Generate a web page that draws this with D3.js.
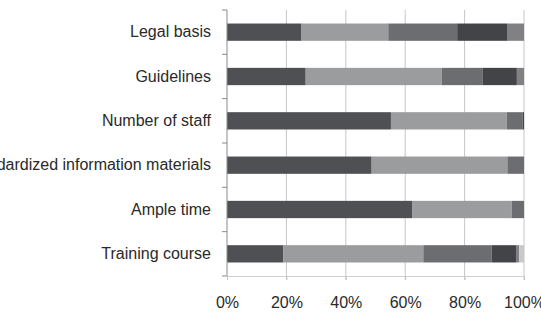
<!DOCTYPE html>
<html>
<head>
<meta charset="utf-8">
<script src="https://cdn.jsdelivr.net/npm/d3@7"></script>
<style>
  body { margin: 0; background: #fff; }
  svg { display: block; font-family: "Liberation Sans", Arial, sans-serif; }
</style>
</head>
<body>
<div id="chart"></div>
<script>
// categories, top to bottom
const categories = ["Legal basis", "Guidelines", "Number of staff",
  "Standardized information materials", "Ample time", "Training course"];

// series shares (%) per category, in stacking order
const seriesA = [25.1, 26.5, 55.2, 48.7, 62.3, 19.0];
const seriesB = [29.2, 45.8, 39.0, 45.7, 33.6, 47.1];
const seriesC = [23.2, 13.7, 5.3, 5.6, 4.1, 23.0];
const seriesD = [17.0, 11.6, 0.5, 0, 0, 8.2];
const seriesE = [5.5, 2.4, 0, 0, 0, 1.1];
const seriesF = [0, 0, 0, 0, 0, 1.6];

const xTicks = [0, 20, 40, 60, 80, 100];

const width = 541;
const height = 314;
const margin = { top: 10, right: 17, bottom: 38, left: 227 };

const seriesKeys = ["A", "B", "C", "D", "E", "F"];
const seriesColors = ["#4e5054", "#9b9c9e", "#6c6d70", "#434447", "#818183", "#c8c8c8"];
const allSeries = [seriesA, seriesB, seriesC, seriesD, seriesE, seriesF];

const rows = categories.map((c, i) => {
  const r = { category: c };
  seriesKeys.forEach((k, j) => r[k] = allSeries[j][i]);
  return r;
});

const stacked = d3.stack().keys(seriesKeys)(rows);

const svg = d3.select("#chart").append("svg")
  .attr("width", width)
  .attr("height", height);

const x = d3.scaleLinear()
  .domain([0, 100])
  .range([margin.left, width - margin.right]);

const y = d3.scaleBand()
  .domain(categories)
  .range([margin.top, height - margin.bottom]);

const barH = y.bandwidth() * 0.39;

// vertical gridlines
svg.append("g")
  .selectAll("line")
  .data(xTicks.slice(1))
  .enter()
  .append("line")
  .attr("x1", d => x(d)).attr("x2", d => x(d))
  .attr("y1", margin.top).attr("y2", height - margin.bottom + 4)
  .attr("stroke", "#c6c6c6")
  .attr("stroke-width", 1);

// bars
svg.append("g")
  .selectAll("g")
  .data(stacked)
  .enter()
  .append("g")
  .attr("fill", (d, i) => seriesColors[i])
  .selectAll("rect")
  .data(d => d)
  .enter()
  .append("rect")
  .attr("x", d => x(d[0]))
  .attr("width", d => x(d[1]) - x(d[0]))
  .attr("y", d => y(d.data.category) + (y.bandwidth() - barH) / 2)
  .attr("height", barH);

// x axis
const xAxis = svg.append("g")
  .attr("transform", `translate(0, ${height - margin.bottom})`)
  .call(d3.axisBottom(x).tickValues(xTicks).tickFormat(d => d + "%").tickSize(4).tickPadding(17));
xAxis.select(".domain").attr("stroke", "#d0d0d0");
xAxis.selectAll(".tick line").attr("stroke", "#c6c6c6");
xAxis.selectAll("text")
  .style("font-size", "16px")
  .attr("fill", "#2a2a2a");

// y axis
const yTickPos = d3.range(categories.length + 1).map(i => margin.top + i * y.step());
const yAxis = svg.append("g")
  .attr("transform", `translate(${margin.left}, 0)`);
yAxis.append("line")
  .attr("x1", 0).attr("x2", 0)
  .attr("y1", margin.top).attr("y2", height - margin.bottom)
  .attr("stroke", "#8a8a8a");
yAxis.selectAll(".ytick")
  .data(yTickPos)
  .enter()
  .append("line")
  .attr("class", "ytick")
  .attr("x1", -5).attr("x2", 0)
  .attr("y1", d => d).attr("y2", d => d)
  .attr("stroke", "#8a8a8a");
yAxis.selectAll("text")
  .data(categories)
  .enter()
  .append("text")
  .attr("x", -16)
  .attr("y", d => y(d) + y.bandwidth() / 2)
  .attr("dy", "0.33em")
  .attr("text-anchor", "end")
  .style("font-size", "16px")
  .attr("fill", "#2a2a2a")
  .text(d => d);
</script>
</body>
</html>
